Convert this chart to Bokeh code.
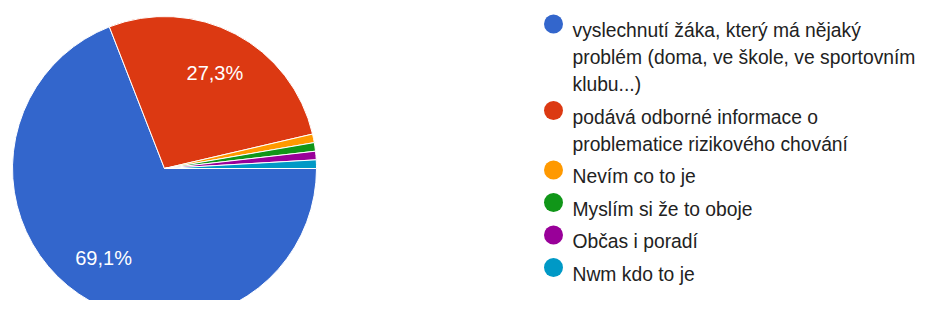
import math
from bokeh.plotting import figure
from bokeh.models import Range1d, ColumnDataSource
from bokeh.core.properties import value
from bokeh.embed import file_html
from bokeh.resources import INLINE

# ---- data ----
categories = [
    "vyslechnutí žáka, který má nějaký\nproblém (doma, ve škole, ve sportovním\nklubu...)",
    "podává odborné informace o\nproblematice rizikového chování",
    "Nevím co to je",
    "Myslím si že to oboje",
    "Občas i poradí",
    "Nwm kdo to je",
]
counts = [76, 30, 1, 1, 1, 1]
colors = ["#3366CC", "#DC3912", "#FF9900", "#109618", "#990099", "#0099C6"]

FONT = "Liberation Sans"

W, H = 924, 300
# coordinates: x = image x, y = -image y
p = figure(width=W, height=H, output_backend="svg", toolbar_location=None,
           x_range=Range1d(0, W), y_range=Range1d(-H, 0),
           min_border=0, outline_line_color=None)
p.axis.visible = False
p.grid.visible = False
p.background_fill_color = "white"

cx, cy, r = 164, -168, 152
total = sum(counts)
fr = [c / total for c in counts]
starts, ends, mids = [], [], []
cum = 0.0
for f in fr:
    a0 = -cum * 2 * math.pi
    a1 = -(cum + f) * 2 * math.pi
    starts.append(a1)
    ends.append(a0)
    mids.append((a0 + a1) / 2)
    cum += f

src = ColumnDataSource(dict(start=starts, end=ends, color=colors))
p.wedge(x=cx, y=cy, radius=r, start_angle="start", end_angle="end",
        fill_color="color", line_color="white", line_width=1, source=src)

# percentage labels
lx, ly, lt = [], [], []
for f, m in zip(fr, mids):
    if f >= 0.05:
        lx.append(cx + 0.71 * r * math.cos(m))
        ly.append(cy + 0.71 * r * math.sin(m))
        lt.append(("%.1f" % (f * 100)).replace(".", ",") + "%")
p.text(x=lx, y=ly, text=lt, text_color="white", text_font=value(FONT),
       text_font_size="20px", text_align="center", text_baseline="middle")

# legend
lgx, line_h, item_gap = 553, 27, 5.5
base = 30.0
mx, my, mc = [], [], []
tx, ty, tt = [], [], []
for lab, col in zip(categories, colors):
    lines = lab.split("\n")
    mx.append(lgx)
    my.append(-(base - 6.5))
    mc.append(col)
    for i, ln in enumerate(lines):
        tx.append(lgx + 19)
        ty.append(-(base + i * line_h))
        tt.append(ln)
    base += (len(lines) - 1) * line_h + line_h + item_gap

p.scatter(x=mx, y=my, size=19, marker="circle", fill_color=mc, line_color=None)
p.text(x=tx, y=ty, text=tt, text_color="#222222", text_font=value(FONT),
       text_font_size="19.3px", text_align="left", text_baseline="alphabetic")

open("out.html", "w").write(file_html(p, INLINE))
